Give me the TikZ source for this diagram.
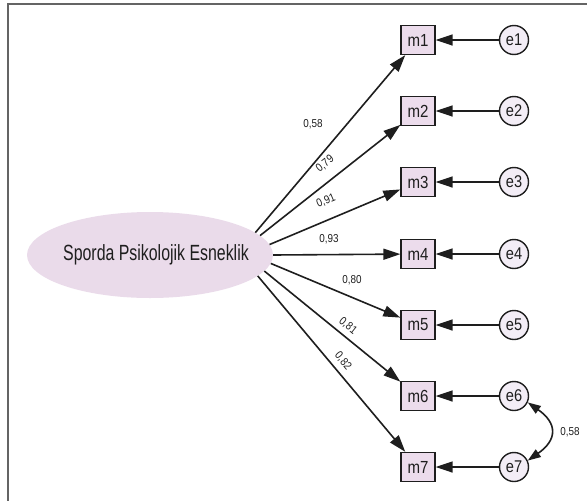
\documentclass[tikz,border=0pt]{standalone}
\usepackage{fontspec}
\setmainfont[FakeStretch=0.86]{Liberation Sans}
\newfontfamily\titlefont[FakeStretch=0.79]{Liberation Sans}
\usetikzlibrary{arrows.meta,shapes.geometric}
\definecolor{latfill}{RGB}{234,219,234}
\definecolor{obsfill}{RGB}{236,220,236}
\definecolor{errfill}{RGB}{243,237,246}
\definecolor{ink}{RGB}{30,30,30}
\definecolor{framegray}{RGB}{100,100,100}
\begin{document}
\begin{tikzpicture}[x=1pt,y=-1pt,
  latent/.style={ellipse, fill=latfill, minimum width=246pt, minimum height=86pt,
    inner sep=0pt},
  lattext/.style={font=\titlefont\fontsize{22}{24}\selectfont, text=ink, inner sep=0pt},
  obsbox/.style={rectangle, draw=ink, line width=1.3pt, fill=obsfill,
    minimum width=34pt, minimum height=29pt, inner sep=0pt,
    font=\fontsize{17.5}{19}\selectfont, text=ink},
  errnode/.style={circle, draw=ink, line width=1.4pt, fill=errfill,
    minimum size=29pt, inner sep=0pt, font=\fontsize{17}{19}\selectfont, text=ink},
  load/.style={draw=ink, line width=1.6pt, -{Triangle[length=17pt,width=11pt]}},
  cov/.style={draw=ink, line width=1.6pt,
    {Triangle[length=13pt,width=9pt]}-{Triangle[length=13pt,width=9pt]}},
  wt/.style={font=\fontsize{11.5}{13}\selectfont, text=ink, inner sep=0pt},
]
\useasboundingbox (0,0) rectangle (587,501);

% frame (top and left edges only)
\draw[framegray, line width=2pt] (7.5,501) -- (7.5,3.5) -- (587,3.5);

% latent factor
\node[latent, label={[lattext, xshift=6pt]center:\scalebox{0.915}[1]{Sporda Psikolojik Esneklik}}] (F) at (150,255) {};

% observed items and their error terms
\foreach \i/\y in {1/40,2/111,3/182,4/254,5/325,6/396,7/467}{
  \node[obsbox] (m\i) at (418,\y) {m\i};
  \node[errnode] (e\i) at (514,\y) {e\i};
  \draw[load] (e\i) -- (m\i);
}

% factor loadings
\draw[load] (F.12)  -- (m1);
\draw[load] (F.10)  -- (m2);
\draw[load] (F.5)   -- (m3);
\draw[load] (F.0)   -- (m4);
\draw[load] (F.-4)  -- (m5);
\draw[load] (F.-8)  -- (m6);
\draw[load] (F.-11) -- (m7);

% loading values
\node[wt] (w1) at (313,124) {0,58};
\node[wt, rotate=39] (w2) at (325,164) {0,79};
\node[wt, rotate=23] (w3) at (326,201) {0,91};
\node[wt] (w4) at (329,239) {0,93};
\node[wt] (w5) at (352,280) {0,80};
\node[wt, rotate=-39] (w6) at (348,326) {0,81};
\node[wt, rotate=-50] (w7) at (343,361) {0,82};

% error covariance
\draw[cov] (e6.-25) to[out=-35, in=35, looseness=1.6] (e7.25);
\node[wt] (c67) at (570,432) {0,58};
\end{tikzpicture}
\end{document}
